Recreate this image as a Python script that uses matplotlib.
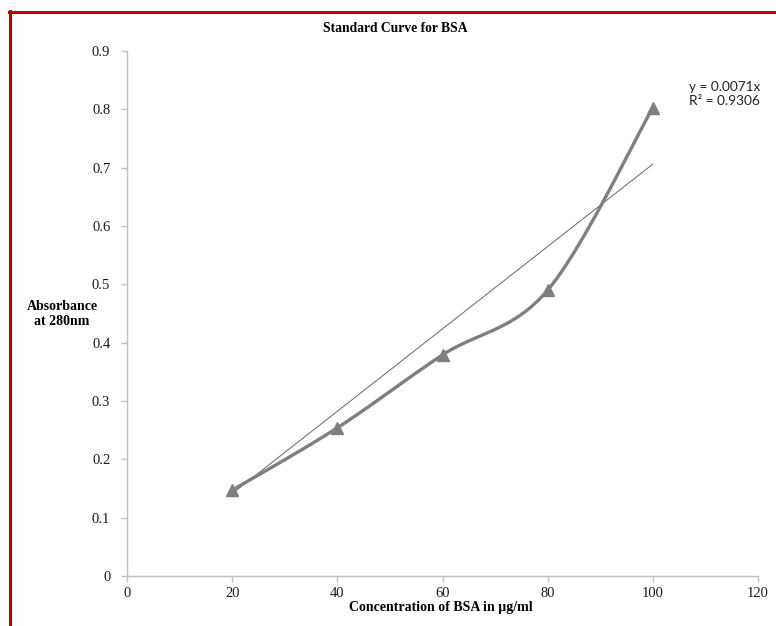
import numpy as np
import matplotlib.pyplot as plt
from matplotlib.lines import Line2D

# BSA standard curve readings
conc = [20, 40, 60, 80, 100]
absorb = [0.147, 0.254, 0.379, 0.490, 0.803]
x_ticks = [0, 20, 40, 60, 80, 100, 120]
y_ticks = [0, 0.1, 0.2, 0.3, 0.4, 0.5, 0.6, 0.7, 0.8, 0.9]

#Excel style smoothed line (Catmull-Rom through the points)
def smooth(xs, ys, n=40):
    xs = np.asarray(xs, float)
    ys = np.asarray(ys, float)
    px = np.concatenate([[xs[0]], xs, [xs[-1]]])
    py = np.concatenate([[ys[0]], ys, [ys[-1]]])
    outx, outy = [], []
    t = np.linspace(0, 1, n)
    for i in range(1, len(px) - 2):
        p0 = np.array([px[i], py[i]])
        p3 = np.array([px[i + 1], py[i + 1]])
        c1 = p0 + (np.array([px[i + 1], py[i + 1]]) - np.array([px[i - 1], py[i - 1]])) / 6
        c2 = p3 - (np.array([px[i + 2], py[i + 2]]) - np.array([px[i], py[i]])) / 6
        b = ((1 - t) ** 3)[:, None] * p0 + (3 * (1 - t) ** 2 * t)[:, None] * c1 \
            + (3 * (1 - t) * t ** 2)[:, None] * c2 + (t ** 3)[:, None] * p3
        outx.extend(b[:, 0])
        outy.extend(b[:, 1])
    return outx, outy

#linear trendline forced through zero
xa = np.array(conc, float)
ya = np.array(absorb, float)
slope = (xa * ya).sum() / (xa ** 2).sum()

fig = plt.figure(figsize=(7.76, 6.26), dpi=100)
ax = fig.add_axes([127 / 776, 50 / 626, 631 / 776, 525 / 626])

sx, sy = smooth(conc, absorb)
ax.plot(sx, sy, color='#7f7f7f', lw=2.4, solid_capstyle='round', zorder=3)
ax.plot(conc, absorb, linestyle='none', marker='^', markersize=9,
        color='#7f7f7f', zorder=4)
ax.plot([conc[0], conc[-1]], [slope * conc[0], slope * conc[-1]],
        color='#666666', lw=0.7, zorder=2)

ax.set_xlim(0, 120)
ax.set_ylim(0, 0.9)
ax.set_xticks(x_ticks)
ax.set_yticks(y_ticks)
ax.set_xticklabels([str(v) for v in x_ticks])
ax.set_yticklabels(['0'] + ['%.1f' % v for v in y_ticks[1:]])
for s in ['top', 'right']:
    ax.spines[s].set_visible(False)
for s in ['left', 'bottom']:
    ax.spines[s].set_color('#bfbfbf')
    ax.spines[s].set_linewidth(1.0)
ax.tick_params(axis='both', colors='#bfbfbf', labelcolor='#1a1a1a',
               length=4, width=1.0, direction='out', labelsize=10.5)
for lab in ax.get_xticklabels() + ax.get_yticklabels():
    lab.set_family('Liberation Serif')
ax.tick_params(axis='y', pad=8)
ax.tick_params(axis='x', pad=4)

fig.text(395 / 776, 1 - 29 / 626, 'Standard Curve for BSA', ha='center', va='center',
         family='Liberation Serif', fontweight='bold', fontsize=9.8)
fig.text(62 / 776, 1 - 314 / 626, 'Absorbance\nat 280nm', ha='center', va='center',
         family='Liberation Serif', fontweight='bold', fontsize=10, linespacing=1.25)
fig.text(441 / 776, 1 - 607 / 626, 'Concentration of BSA in µg/ml', ha='center', va='center',
         family='Liberation Serif', fontweight='bold', fontsize=10)

fig.text(689 / 776, 1 - 87 / 626, 'y = %.4fx' % slope, ha='left', va='center',
         family='Lato', fontsize=9.8, color='#222222')
fig.text(689 / 776, 1 - 101 / 626, 'R² = %.4f' % 0.9306, ha='left', va='center',
         family='Lato', fontsize=9.8, color='#222222')

# red frame on top and left
fig.add_artist(Line2D([9 / 776, 1], [1 - 12 / 626] * 2, color='#c00000', lw=2.2,
                      transform=fig.transFigure))
fig.add_artist(Line2D([10 / 776] * 2, [0, 1 - 11 / 626], color='#c00000', lw=2.2,
                      transform=fig.transFigure))

fig.savefig('out.png', dpi=100)
